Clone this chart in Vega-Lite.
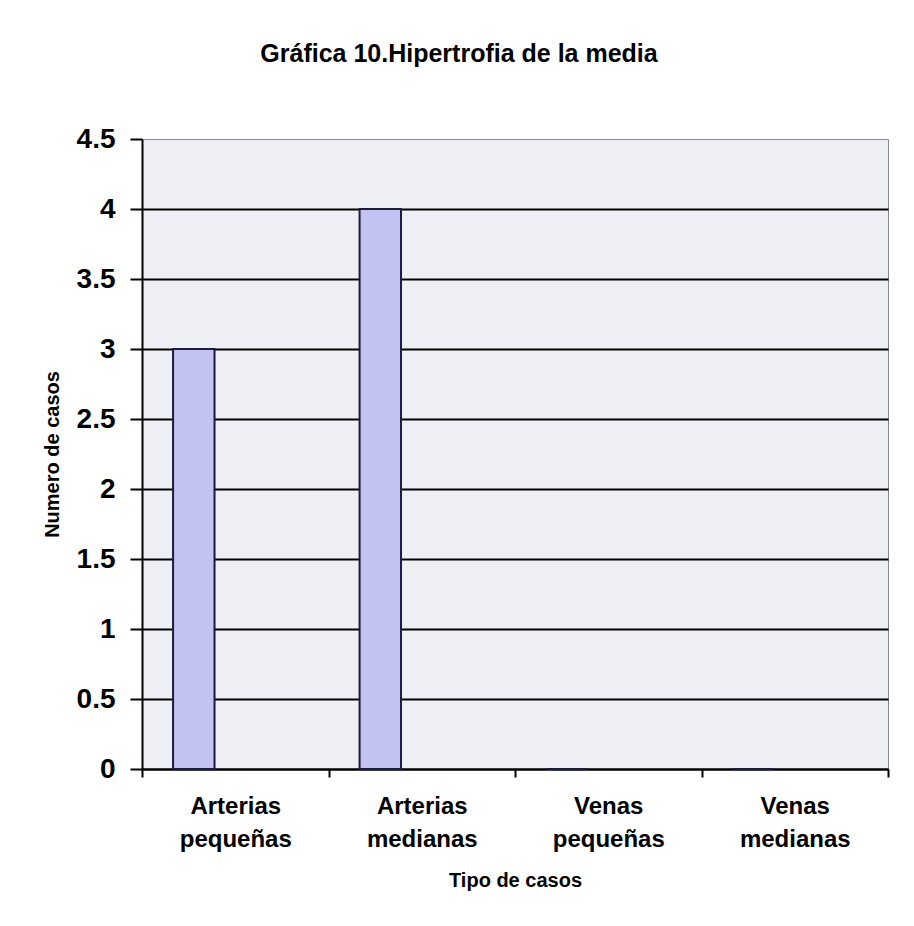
{
  "$schema": "https://vega.github.io/schema/vega-lite/v6.json",
  "width": 746,
  "height": 630,
  "autosize": {"type": "none"},
  "padding": {"left": 142, "top": 139, "right": 26, "bottom": 157},
  "background": "white",
  "title": {
    "text": "Gráfica 10.Hipertrofia de la media",
    "font": "Liberation Sans",
    "fontSize": 25,
    "fontWeight": "bold",
    "color": "black",
    "anchor": "middle",
    "baseline": "alphabetic",
    "offset": 38,
    "dx": -56
  },
  "data": {
    "values": [
      {"tipo": "Arterias pequeñas", "serie": "s1", "casos": 3},
      {"tipo": "Arterias medianas", "serie": "s1", "casos": 4},
      {"tipo": "Venas pequeñas", "serie": "s1", "casos": 0},
      {"tipo": "Venas medianas", "serie": "s1", "casos": 0}
    ]
  },
  "mark": {"type": "bar", "fill": "#C3C3F2", "stroke": "#1b1b3d", "strokeWidth": 2},
  "encoding": {
    "x": {
      "field": "tipo",
      "type": "nominal",
      "sort": null,
      "scale": {"domain": ["Arterias pequeñas", "Arterias medianas", "Venas pequeñas", "Venas medianas"], "paddingInner": 0, "paddingOuter": 0},
      "title": "Tipo de casos",
      "axis": {
        "labelAngle": 0,
        "labelExpr": "split(datum.label, ' ')",
        "labelFont": "Liberation Sans",
        "labelFontSize": 24,
        "labelFontWeight": "bold",
        "labelColor": "black",
        "labelLineHeight": 33,
        "labelPadding": 17,
        "labelBaseline": "top",
        "tickBand": "extent",
        "tickSize": 8,
        "tickColor": "black",
        "tickWidth": 2,
        "domainColor": "black",
        "domainWidth": 2,
        "titleFont": "Liberation Sans",
        "titleFontSize": 20,
        "titleFontWeight": "bold",
        "titleColor": "black",
        "titlePadding": 19
      }
    },
    "xOffset": {
      "field": "serie",
      "type": "nominal",
      "scale": {"domain": ["s1", "s2", "s3"], "paddingInner": 0, "paddingOuter": 0.75}
    },
    "y": {
      "field": "casos",
      "type": "quantitative",
      "scale": {"domain": [0, 4.5], "nice": false},
      "title": "Numero de casos",
      "axis": {
        "values": [0, 0.5, 1, 1.5, 2, 2.5, 3, 3.5, 4, 4.5],
        "format": "~g",
        "labelFont": "Liberation Sans",
        "labelFontSize": 28,
        "labelFontWeight": "bold",
        "labelColor": "black",
        "labelPadding": 15,
        "tickSize": 12,
        "tickColor": "black",
        "tickWidth": 2,
        "domainColor": "black",
        "domainWidth": 2,
        "grid": true,
        "gridColor": {"condition": {"test": "datum.value === 4.5", "value": "#8a8a8a"}, "value": "black"},
        "gridWidth": {"condition": {"test": "datum.value === 4.5", "value": 1}, "value": 2},
        "gridOpacity": 1,
        "titleFont": "Liberation Sans",
        "titleFontSize": 20,
        "titleFontWeight": "bold",
        "titleColor": "black",
        "titlePadding": 14
      }
    }
  },
  "config": {
    "view": {"fill": "#EEEEF5", "stroke": "#8a8a8a", "strokeWidth": 1}
  }
}
